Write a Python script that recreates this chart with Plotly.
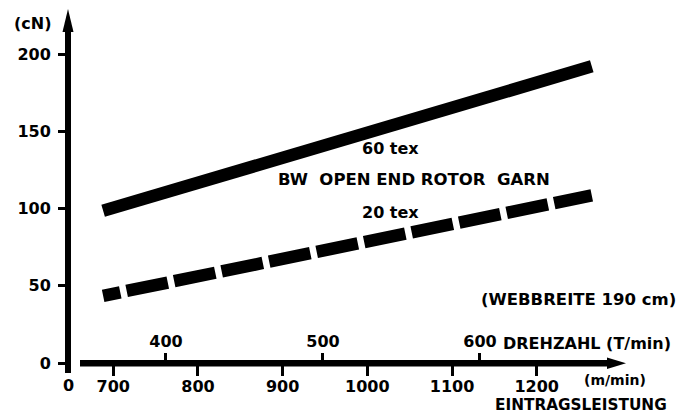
import plotly.graph_objects as go

# ---- data ----
speed = [688, 1265]                 # Eintragsleistung (m/min)
tex60 = [98.5, 192]                 # cN
tex20 = [43.5, 108.5]               # cN
x_ticks = [700, 800, 900, 1000, 1100, 1200]
y_ticks = [0, 50, 100, 150, 200]
rpm_ticks = [400, 500, 600]         # Drehzahl (T/min)

# page offset of the figure (browser body margin)
OFF = 8
W, H = 685 - OFF, 414 - OFF
FONT = dict(family="DejaVu Sans", size=16, color="black", weight="bold")


def px(x):
    return (x - OFF) / W


def py(y):
    return 1 - (y - OFF) / H


# dash pattern: short first dash, then regular long dashes
dash_pattern = ",".join(["17.5px", "6.5px"] + ["42px", "6.5px"] * 14)

fig = go.Figure()
fig.add_trace(go.Scatter(x=speed, y=tex60, mode="lines",
                         line=dict(color="black", width=12.5), showlegend=False))
fig.add_trace(go.Scatter(x=speed, y=tex20, mode="lines",
                         line=dict(color="black", width=12.5, dash=dash_pattern),
                         showlegend=False))
# dummy trace on the second x axis so it is drawn
fig.add_trace(go.Scatter(x=[400], y=[None], xaxis="x2", showlegend=False,
                         hoverinfo="skip"))

shapes = [
    # y axis line
    dict(type="rect", xref="paper", yref="paper", x0=px(65), x1=px(71),
         y0=py(373), y1=py(28), fillcolor="black", line=dict(width=0)),
    # y arrow head
    dict(type="path", xref="paper", yref="paper",
         path=f"M {px(62.5)} {py(32)} L {px(68)} {py(9)} L {px(73.5)} {py(32)} Z",
         fillcolor="black", line=dict(width=0)),
    # x axis line
    dict(type="rect", xref="paper", yref="paper", x0=px(80), x1=px(610),
         y0=py(366.5), y1=py(360), fillcolor="black", line=dict(width=0)),
    # x arrow head
    dict(type="path", xref="paper", yref="paper",
         path=f"M {px(607)} {py(357.5)} L {px(626)} {py(363.2)} L {px(607)} {py(369)} Z",
         fillcolor="black", line=dict(width=0)),
]


def ann(text, x, y, size=16, xanchor="center"):
    f = dict(FONT)
    f["size"] = size
    return dict(text=text, x=px(x), y=py(y), xref="paper", yref="paper",
                showarrow=False, font=f, xanchor=xanchor, yanchor="middle",
                borderpad=0)


annotations = [
    ann("(cN)", 33, 23),
    ann("0", 68, 385),
    ann("60 tex", 390, 148),
    ann("BW  OPEN END ROTOR  GARN", 414, 180, 16.5),
    ann("20 tex", 390, 212),
    ann("(WEBBREITE 190 cm)", 578, 299, 16.5),
    ann("DREHZAHL (T/min)", 502, 343, xanchor="left"),
    ann("(m/min)", 583, 380, 14, xanchor="left"),
    ann("EINTRAGSLEISTUNG", 581, 405, 15.3),
]

fig.update_layout(
    width=W, height=H,
    margin=dict(l=0, r=0, t=0, b=0),
    paper_bgcolor="white", plot_bgcolor="white",
    font=FONT,
    shapes=shapes,
    annotations=annotations,
    xaxis=dict(range=[575.65, 1375.1], domain=[0, 1], anchor="free",
               position=py(363), showgrid=False, zeroline=False, showline=False,
               tickvals=x_ticks, ticks="outside", ticklen=12, tickwidth=2.5,
               tickcolor="black", tickfont=FONT, ticklabelstandoff=-3,
               fixedrange=True),
    xaxis2=dict(range=[299.36, 730.6], domain=[0, 1], overlaying="x",
                side="top", anchor="free", position=py(363), showgrid=False,
                zeroline=False, showline=False, tickvals=rpm_ticks,
                ticks="outside", ticklen=10, tickwidth=2.5, tickcolor="black",
                tickfont=FONT, fixedrange=True),
    yaxis=dict(range=[-33.0, 229.77], domain=[0, 1], anchor="free",
               position=px(68), showgrid=False, zeroline=False, showline=False,
               tickvals=y_ticks, ticks="outside", ticklen=10, tickwidth=2.5,
               tickcolor="black", tickfont=FONT, ticklabelstandoff=4,
               fixedrange=True),
)

fig.write_html("out.html")
